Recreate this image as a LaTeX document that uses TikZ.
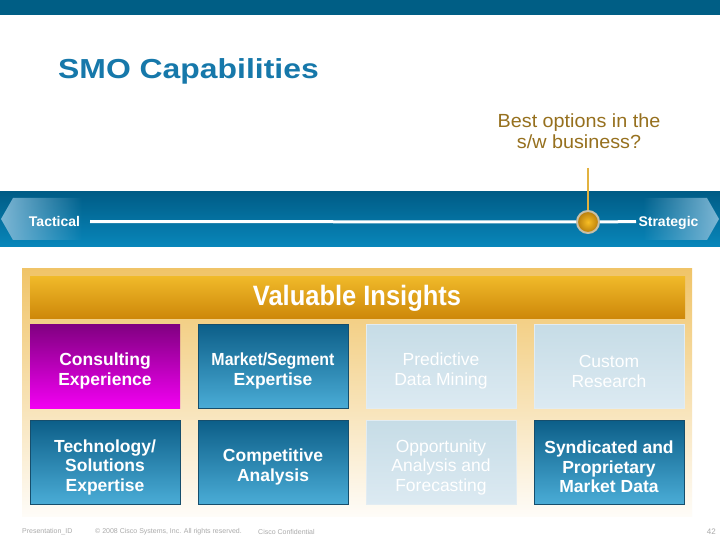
\documentclass[tikz,border=0pt]{standalone}
\usepackage{fontspec}
\setmainfont{Liberation Sans}
\newfontfamily\condfont[FakeStretch=0.91]{Liberation Sans}
\newfontfamily\widefont[FakeStretch=1.16]{Liberation Sans}
\newfontfamily\bestfont[FakeStretch=1.04]{Liberation Sans}
\newcommand\cellgap{\rule{0pt}{23pt}}
\usetikzlibrary{fadings}
\tikzfading[name=fadeoutright, left color=transparent!0, right color=transparent!100]
\tikzfading[name=fadeoutleft, left color=transparent!100, right color=transparent!0]
\definecolor{topbar}{RGB}{0,94,133}
\definecolor{bandtop}{RGB}{0,92,134}
\definecolor{bandbot}{RGB}{8,134,186}
\definecolor{titleblue}{RGB}{22,120,170}
\definecolor{besttxt}{RGB}{150,112,30}
\definecolor{goldline}{RGB}{226,178,64}
\definecolor{tagcol}{RGB}{125,182,212}
\definecolor{ballin}{RGB}{248,190,36}
\definecolor{ballout}{RGB}{182,124,12}
\definecolor{ballrim}{RGB}{200,192,168}
\definecolor{paneltop}{RGB}{240,196,104}
\definecolor{panelbot}{RGB}{254,252,248}
\definecolor{headtop}{RGB}{240,186,42}
\definecolor{headbot}{RGB}{206,136,10}
\definecolor{bluetop}{RGB}{12,94,136}
\definecolor{bluebot}{RGB}{74,172,214}
\definecolor{blueedge}{RGB}{22,78,108}
\definecolor{magtop}{RGB}{128,0,128}
\definecolor{magbot}{RGB}{242,0,242}
\definecolor{lighttop}{RGB}{198,220,230}
\definecolor{lightbot}{RGB}{220,234,242}
\definecolor{lightedge}{RGB}{226,236,242}
\definecolor{foot}{RGB}{170,170,170}
\tikzset{
  cell/.style={minimum width=150pt, minimum height=84pt, inner sep=0pt, align=center,
    text=white, font=\fontsize{17.5}{19.5}\selectfont},
  bluecell/.style={cell, top color=bluetop, bottom color=bluebot, draw=blueedge, line width=0.7pt,
    font=\fontsize{17.5}{19.5}\selectfont\bfseries},
  magcell/.style={cell, top color=magtop, bottom color=magbot,
    font=\fontsize{17.5}{19.5}\selectfont\bfseries},
  lightcell/.style={cell, top color=lighttop, bottom color=lightbot, draw=lightedge, line width=0.7pt},
  tagtxt/.style={text=white, inner sep=0pt, anchor=base, font=\fontsize{14}{16}\selectfont\bfseries},
  track/.style={draw=white, line width=3pt},
  footer/.style={text=foot, inner sep=0pt, font=\fontsize{7}{8}\selectfont}
}
\begin{document}
\begin{tikzpicture}[x=1pt,y=-1pt]
\useasboundingbox (0,0) rectangle (720,540);
\fill[white] (0,0) rectangle (720,540);
% top bar
\fill[topbar] (0,0) rectangle (720,15);
% title
\node[anchor=base west, inner sep=0pt, text=titleblue, font=\widefont\fontsize{27.5}{32}\selectfont\bfseries] (title) at (58,79) {SMO Capabilities};
% question
\node[align=center, inner sep=0pt, text=besttxt, font=\bestfont\fontsize{19}{21}\selectfont] (best) at (579,131) {Best options in the\\s/w business?};
% band
\shade[top color=bandtop, bottom color=bandbot] (0,192) rectangle (720,246);
\fill[tagcol, path fading=fadeoutright] (1,219) -- (13,198) -- (82,198) -- (82,240) -- (13,240) -- cycle;
\fill[tagcol, path fading=fadeoutleft] (643,198) -- (707,198) -- (719,219) -- (707,240) -- (643,240) -- cycle;
\node[tagtxt] (tact) at (54.5,226) {Tactical};
\node[tagtxt] (strat) at (668.5,226) {Strategic};
\coordinate (pin) at (588,168);
\coordinate (tactend) at (90,221.5);
\coordinate (stratend) at (636,221.5);
\node[circle, minimum size=22pt, inner sep=0pt, inner color=ballin, outer color=ballout, draw=ballrim, line width=2pt] (ball) at (588,222) {};
\draw[goldline, line width=2.6pt] (pin) -- (ball.north);
\draw[track] (tactend) -- (ball.west);
\draw[track] (ball.east) -- (stratend);
% panel
\shade[top color=paneltop, bottom color=panelbot] (22,268) rectangle (692,516);
\shade[top color=headtop, bottom color=headbot] (30,276) rectangle (685,318);
\node[anchor=base, inner sep=0pt, text=white, font=\condfont\fontsize{28}{32}\selectfont\bfseries] (head) at (357,305) {Valuable Insights};
% cells
\node[magcell] (c11) at (105,366) {\cellgap Consulting\\Experience};
\node[bluecell] (c12) at (273,366) {\cellgap{\condfont\bfseries Market/Segment}\\Expertise};
\node[lightcell] (c13) at (441,366) {\cellgap Predictive\\Data Mining};
\node[lightcell] (c14) at (609,366) {\cellgap Custom\\Research};
\node[bluecell] (c21) at (105,462) {\cellgap Technology/\\Solutions\\Expertise};
\node[bluecell] (c22) at (273,462) {\cellgap Competitive\\Analysis};
\node[lightcell] (c23) at (441,462) {\cellgap Opportunity\\Analysis and\\Forecasting};
\node[bluecell] (c24) at (609,462) {\cellgap Syndicated and\\Proprietary\\Market Data};
% footer
\node[footer, anchor=west] (f1) at (22,532) {Presentation\_ID};
\node[footer, anchor=west] (f2) at (95,532) {© 2008 Cisco Systems, Inc. All rights reserved.};
\node[footer, anchor=west] (f3) at (258,532) {Cisco Confidential};
\node[footer, anchor=east, font=\fontsize{8}{9}\selectfont] (f4) at (716,532) {42};
\end{tikzpicture}
\end{document}
